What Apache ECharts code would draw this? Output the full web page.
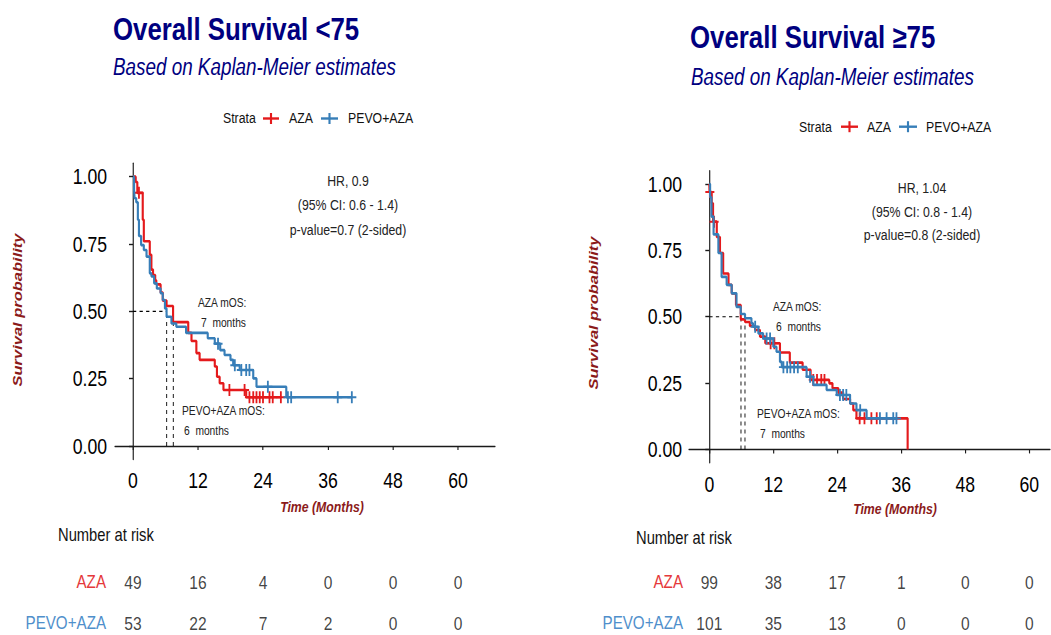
<!DOCTYPE html>
<html><head><meta charset="utf-8">
<script src="https://cdn.jsdelivr.net/npm/echarts@6/dist/echarts.min.js"></script>
<style>
html,body{margin:0;padding:0;background:#fff;overflow:hidden;width:1051px;height:635px}
#c{width:1282px;height:635px;transform:scaleX(0.82);transform-origin:0 0}
</style>
</head><body><div id="c"></div>
<script>
// ---------------- data ----------------
const strata = ['AZA', 'PEVO+AZA'];
const xTicks = [0, 12, 24, 36, 48, 60];
const yTicks = [0, 0.25, 0.5, 0.75, 1];
const riskTimes = [0, 12, 24, 36, 48, 60];

// Overall Survival <75
const lt75AzaTime = [0, 0.5, 0.8, 1.8, 2.0, 3.1, 3.4, 3.7, 4.1, 4.3, 5.1, 5.5, 6.2, 7.4, 10.2, 10.8, 11.7, 12.3, 15.1, 15.5, 16.0, 16.7, 20.9, 27.3];
const lt75AzaSurv = [1, 0.98, 0.94, 0.84, 0.76, 0.71, 0.655, 0.635, 0.615, 0.6, 0.57, 0.54, 0.52, 0.46, 0.42, 0.39, 0.345, 0.32, 0.295, 0.257, 0.233, 0.208, 0.181, 0.181];
const lt75AzaCensor = [1.1, 17.8, 20.6, 21.5, 22.2, 22.8, 23.4, 24.0, 25.2, 25.8, 27.3];
const lt75PevoTime = [0, 0.2, 0.3, 0.6, 0.9, 1.1, 1.5, 2.0, 2.5, 3.1, 3.4, 3.9, 4.4, 5.1, 5.5, 5.9, 6.2, 7.1, 8.0, 9.8, 13.8, 15.1, 16.1, 16.9, 18.0, 18.5, 19.7, 22.2, 22.8, 28.3, 40.4];
const lt75PevoSurv = [1, 0.95, 0.92, 0.905, 0.84, 0.78, 0.746, 0.728, 0.703, 0.641, 0.63, 0.604, 0.585, 0.567, 0.542, 0.511, 0.48, 0.455, 0.443, 0.42, 0.40, 0.38, 0.356, 0.338, 0.32, 0.30, 0.282, 0.251, 0.22, 0.181, 0.181];
const lt75PevoCensor = [15.7, 18.8, 20.0, 20.9, 21.5, 24.9, 28.6, 29.2, 37.8, 40.4];
const lt75Medians = [7.44, 6.22];       // AZA, PEVO+AZA (months)
const lt75RiskAza = [49, 16, 4, 0, 0, 0];
const lt75RiskPevo = [53, 22, 7, 2, 0, 0];
const lt75Stats = ['HR, 0.9', '(95% CI: 0.6 - 1.4)', 'p-value=0.7 (2-sided)'];
const lt75MosText = ['AZA mOS:', '7  months', 'PEVO+AZA mOS:', '6  months'];

// Overall Survival >=75
const ge75AzaTime = [0, 0.05, 0.45, 0.7, 1.4, 2.0, 2.6, 3.6, 4.2, 5.0, 5.9, 6.7, 7.6, 8.6, 9.5, 10.5, 13.25, 15.1, 17.5, 19.0, 22.5, 23.1, 24.2, 25.1, 26.4, 27.0, 27.6, 37.2];
const ge75AzaSurv = [1, 0.97, 0.927, 0.858, 0.80, 0.74, 0.663, 0.62, 0.588, 0.544, 0.49, 0.48, 0.465, 0.45, 0.425, 0.40, 0.365, 0.327, 0.30, 0.262, 0.249, 0.23, 0.214, 0.19, 0.173, 0.148, 0.117, 0];
const ge75AzaCensor = [0.1, 0.9, 11.5, 12.2, 19.5, 20.2, 21.0, 21.6, 28.2, 29.1, 30.4, 31.4];
const ge75PevoTime = [0, 0.15, 0.4, 0.8, 1.7, 2.3, 3.25, 4.2, 5.1, 5.9, 6.7, 7.9, 8.2, 9.2, 10.1, 12.0, 12.6, 13.25, 13.6, 18.25, 19.5, 22.0, 23.9, 26.4, 27.6, 29.5, 35.1];
const ge75PevoSurv = [1, 0.95, 0.877, 0.81, 0.74, 0.65, 0.62, 0.588, 0.537, 0.51, 0.494, 0.475, 0.462, 0.437, 0.418, 0.387, 0.368, 0.33, 0.31, 0.274, 0.243, 0.224, 0.205, 0.173, 0.148, 0.117, 0.117];
const ge75PevoCensor = [8.6, 10.75, 11.4, 13.9, 14.6, 15.2, 15.9, 16.6, 18.9, 24.5, 25.1, 25.7, 28.3, 32.0, 33.25, 34.5, 35.1];
const ge75Medians = [5.94, 6.69];
const ge75RiskAza = [99, 38, 17, 1, 0, 0];
const ge75RiskPevo = [101, 35, 13, 0, 0, 0];
const ge75Stats = ['HR, 1.04', '(95% CI: 0.8 - 1.4)', 'p-value=0.8 (2-sided)'];
const ge75MosText = ['AZA mOS:', '6  months', 'PEVO+AZA mOS:', '7  months'];

const titles = ['Overall Survival <75', 'Overall Survival \u226575'];
const subtitle = 'Based on Kaplan-Meier estimates';

// ---------------- styles ----------------
const SX = 0.82;                 // page is drawn horizontally condensed like the reference
const X = v => v / SX;           // screen x -> chart x
const FONT = "'Liberation Sans',Arial,sans-serif";
const RED = '#E41A1C', BLUE = '#377EB8', NAVY = '#00007F', DARKRED = '#8B1A1A';
const CROSS = 'path://M0,4.2H10V5.8H0Z M4,0H6V10H4Z';

function survAt(times, surv, t) {
  let s = surv[0];
  for (let i = 0; i < times.length; i++) if (times[i] <= t) s = surv[i];
  return s;
}

const panels = [
  { aT: lt75AzaTime, aS: lt75AzaSurv, aC: lt75AzaCensor, pT: lt75PevoTime, pS: lt75PevoSurv, pC: lt75PevoCensor,
    med: lt75Medians, rA: lt75RiskAza, rP: lt75RiskPevo,
    gl: 115, gw: 380, gt: 163.2, gh: 296.3, xmin: -3.32, xmax: 66.83, ylm: 8, xlm: 10, rlm: 9 },
  { aT: ge75AzaTime, aS: ge75AzaSurv, aC: ge75AzaCensor, pT: ge75PevoTime, pS: ge75PevoSurv, pC: ge75PevoCensor,
    med: ge75Medians, rA: ge75RiskAza, rP: ge75RiskPevo,
    gl: 689, gw: 361, gt: 170.7, gh: 292, xmin: -3.81, xmax: 63.9, ylm: 7, xlm: 11, rlm: 6 }
];

const grids = [], xAxes = [], yAxes = [], series = [];
const axisLineStyle = { color: '#1a1a1a', width: 1.4 };

panels.forEach((p, k) => {
  const pi = 2 * k, ri = 2 * k + 1;
  grids.push({ containLabel: false, outerBoundsMode: 'none', left: X(p.gl), width: X(p.gw), top: p.gt, height: p.gh });
  xAxes.push({
    gridIndex: pi, type: 'value', min: p.xmin, max: p.xmax,
    axisLine: { show: true, lineStyle: axisLineStyle },
    axisTick: { show: true, customValues: xTicks, length: 4, lineStyle: axisLineStyle },
    axisLabel: { customValues: xTicks, margin: p.xlm, fontFamily: FONT, fontSize: 21.5, color: '#000' },
    splitLine: { show: false }
  });
  yAxes.push({
    gridIndex: pi, type: 'value', min: -0.05, max: 1.05,
    axisLine: { show: true, lineStyle: axisLineStyle },
    axisTick: { show: true, customValues: yTicks, length: X(4), lineStyle: axisLineStyle },
    axisLabel: { customValues: yTicks, margin: X(p.ylm), fontFamily: FONT, fontSize: 21.5, color: '#000',
      formatter: v => Number(v).toFixed(2) },
    splitLine: { show: false }
  });
  grids.push({ containLabel: false, outerBoundsMode: 'none', left: X(p.gl), width: X(p.gw), top: 561.5, height: 82 });
  xAxes.push({ gridIndex: ri, type: 'value', min: p.xmin, max: p.xmax, show: false });
  yAxes.push({ gridIndex: ri, type: 'category', data: strata, inverse: true,
    axisLine: { show: false }, axisTick: { show: false }, splitLine: { show: false },
    axisLabel: { margin: X(p.rlm), fontFamily: FONT, fontSize: 18.5, color: v => (v === 'AZA' ? '#E5393B' : '#4F8FCB') } });

  const dash = { color: '#000', width: 1.1, type: [4, 4] };
  const hEnd = Math.min(p.med[0], p.med[1]);
  [[[0, 0.5], [hEnd, 0.5]], [[p.med[0], 0], [p.med[0], 0.5]], [[p.med[1], 0], [p.med[1], 0.5]]].forEach(d => {
    series.push({ type: 'line', xAxisIndex: pi, yAxisIndex: pi, data: d, showSymbol: false, silent: true,
      lineStyle: dash, z: 2, animation: false });
  });
  const curves = [[p.aT, p.aS, p.aC, RED, strata[0]], [p.pT, p.pS, p.pC, BLUE, strata[1]]];
  curves.forEach(([T, S, C, col, nm], j) => {
    series.push({ name: nm, type: 'line', step: 'end', xAxisIndex: pi, yAxisIndex: pi, showSymbol: false, silent: true,
      data: T.map((t, i) => [t, S[i]]), lineStyle: { color: col, width: 2.6 }, itemStyle: { color: col },
      z: 3 + j, animation: false });
    series.push({ type: 'scatter', xAxisIndex: pi, yAxisIndex: pi, silent: true, symbol: CROSS, symbolSize: [11, 12],
      data: C.map(t => [t, survAt(T, S, t)]), itemStyle: { color: col, opacity: 1 }, z: 3 + j, animation: false });
  });
  [[p.rA, 0], [p.rP, 1]].forEach(([arr, row]) => {
    series.push({ type: 'scatter', xAxisIndex: ri, yAxisIndex: ri, silent: true, symbol: 'circle', symbolSize: 1,
      itemStyle: { color: 'rgba(0,0,0,0)' }, animation: false,
      data: riskTimes.map((t, i) => [t, row, arr[i]]),
      label: { show: true, position: 'inside', formatter: q => String(q.value[2]), fontFamily: FONT, fontSize: 19, color: '#111' } });
  });
});

function txt(x, y, text, font, fill, align, extra) {
  return Object.assign({ type: 'text', x: X(x), y: y, silent: true,
    style: { text: text, font: font, fill: fill, textAlign: align || 'left', textVerticalAlign: 'middle',
      align: align || 'left', verticalAlign: 'middle' } }, extra || {});
}
function legendKey(x0, x1, y, col) {
  const xm = (x0 + x1) / 2;
  return [
    { type: 'line', silent: true, shape: { x1: X(x0), y1: y, x2: X(x1), y2: y }, style: { stroke: col, lineWidth: 2.4 } },
    { type: 'line', silent: true, shape: { x1: X(xm), y1: y - 5.5, x2: X(xm), y2: y + 5.5 }, style: { stroke: col, lineWidth: 2.6 } }
  ];
}
const g = [];
const layout = [
  { tx: 113, ty: 29.2, sx: 113, sy: 67, ly: 118.5, lg: [223, 263, 279, 289, 321, 338, 348],
    sc: 348, sy0: [181, 205, 230], stats: lt75Stats, mos: lt75MosText,
    mosPos: [[198, 303], [201, 323], [182, 411], [184, 431]], xt: [322, 507], yt: [17, 310], nar: [58, 534] },
  { tx: 690, ty: 36.7, sx: 691, sy: 76.7, ly: 126.7, lg: [799, 841, 858, 867, 899, 917, 926],
    sc: 922, sy0: [188, 212, 235], stats: ge75Stats, mos: ge75MosText,
    mosPos: [[773, 307], [776, 327], [757, 414], [760, 434]], xt: [895, 509], yt: [593, 313], nar: [636, 537] }
];
layout.forEach((L, k) => {
  g.push(txt(L.tx, L.ty, titles[k], 'bold 31.5px ' + FONT, NAVY));
  g.push(txt(L.sx, L.sy, subtitle, 'italic 23px ' + FONT, NAVY));
  g.push(txt(L.lg[0], L.ly, 'Strata', '15px ' + FONT, '#111'));
  g.push(...legendKey(L.lg[1], L.lg[2], L.ly, RED));
  g.push(txt(L.lg[3], L.ly, strata[0], '15px ' + FONT, '#111'));
  g.push(...legendKey(L.lg[4], L.lg[5], L.ly, BLUE));
  g.push(txt(L.lg[6], L.ly, strata[1], '15px ' + FONT, '#111'));
  L.stats.forEach((s, i) => g.push(txt(L.sc, L.sy0[i], s, '15px ' + FONT, '#222', 'center')));
  L.mos.forEach((s, i) => g.push(txt(L.mosPos[i][0], L.mosPos[i][1], s, '12.5px ' + FONT, '#222')));
  g.push(txt(L.xt[0], L.xt[1], 'Time (Months)', 'italic bold 15px ' + FONT, DARKRED, 'center'));
  g.push(txt(L.yt[0], L.yt[1], 'Survival probability', 'italic bold 16.5px ' + FONT, DARKRED, 'center', { rotation: Math.PI / 2 }));
  g.push(txt(L.nar[0], L.nar[1], 'Number at risk', '18px ' + FONT, '#111'));
});

const chart = echarts.init(document.getElementById('c'), null, { renderer: 'svg', width: 1282, height: 635 });
chart.setOption({
  animation: false,
  backgroundColor: '#fff',
  grid: grids, xAxis: xAxes, yAxis: yAxes, series: series,
  graphic: g
});
</script></body></html>
